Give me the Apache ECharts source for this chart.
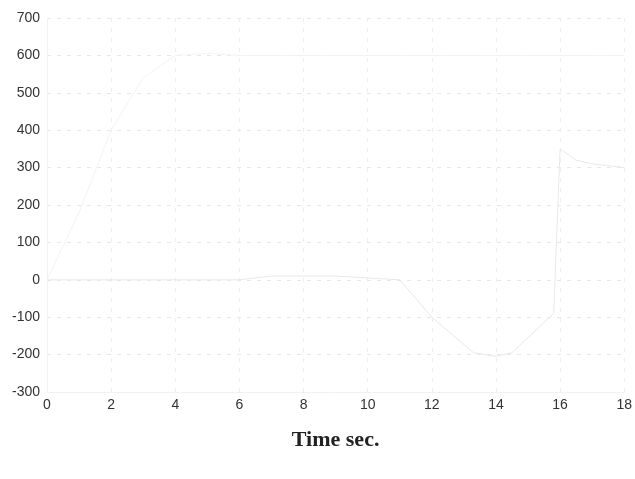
<!DOCTYPE html>
<html>
<head>
<meta charset="utf-8">
<script src="https://cdn.jsdelivr.net/npm/echarts@6/dist/echarts.min.js"></script>
<style>
  html, body { margin: 0; padding: 0; background: #fff; }
  #chart { width: 635px; height: 479px; }
</style>
</head>
<body>
<div id="chart"></div>
<script>
// values read (roughly) off the faded figure
var currentTime = [0, 1, 2, 3, 4, 5, 6, 8, 10, 12, 14, 16, 17, 18]
var currentVals = [0, 180, 400, 540, 600, 605, 600, 600, 600, 600, 600, 600, 600, 600]
var voltageTime = [0, 2, 4, 6, 7, 9, 11, 12, 13.3, 14, 14.5, 15.8, 16, 16.5, 17, 18]
var voltageVals = [0, 0, 0, 0, 10, 10, 0, -100, -195, -205, -195, -90, 350, 320, 310, 300]
var yTicks = [-300, -200, -100, 0, 100, 200, 300, 400, 500, 600, 700]

var pair = (xs, ys) => xs.map((x, i) => [x, ys[i]])

var Chart = echarts.init(document.getElementById('chart'))
var option = {
    animation: false,
    grid: {
        left: 47,
        right: 8,
        top: 18,
        bottom: 87
    },
    xAxis: {
        type: 'value',
        min: 0,
        max: 18,
        interval: 2,
        name: 'Time sec.',
        nameLocation: 'middle',
        nameGap: 37,
        nameTextStyle: {
            fontFamily: 'Liberation Serif',
            fontWeight: 'bold',
            fontSize: 22,
            color: '#222'
        },
        axisLine: { show: true, onZero: false, lineStyle: { color: '#f2f2f2' } },
        axisTick: { show: false },
        axisLabel: {
            margin: 6,
            fontFamily: 'Liberation Sans',
            fontSize: 14,
            color: '#333'
        },
        splitLine: { show: true, lineStyle: { color: '#eeeeee', type: [4, 6] } }
    },
    yAxis: {
        type: 'value',
        min: -300,
        max: 700,
        interval: 100,
        axisLine: { show: true, lineStyle: { color: '#f2f2f2' } },
        axisTick: { show: false },
        axisLabel: {
            margin: 7,
            fontFamily: 'Liberation Sans',
            fontSize: 14,
            color: '#333',
            formatter: (v) => yTicks.indexOf(v) >= 0 ? String(v) : '',
            verticalAlign: 'middle'
        },
        splitLine: { show: true, lineStyle: { color: '#e8e8e8', type: [4, 6] } }
    },
    series: [
        {
            name: 'DC current Amp.',
            type: 'line',
            data: pair(currentTime, currentVals),
            showSymbol: false,
            lineStyle: { color: '#f3f3f3', width: 1 },
            markPoint: {
                symbol: 'none',
                data: [{
                    coord: [4, 630],
                    label: {
                        show: true,
                        formatter: 'DC current Amp.',
                        position: 'right',
                        distance: 0,
                        fontFamily: 'Liberation Sans',
                        fontSize: 13,
                        color: '#222'
                    }
                }]
            }
        },
        {
            name: 'DC voltage volt',
            type: 'line',
            data: pair(voltageTime, voltageVals),
            showSymbol: false,
            lineStyle: { color: '#e8e8e8', width: 1 },
            markPoint: {
                symbol: 'none',
                data: [{
                    coord: [12.2, 418],
                    label: {
                        show: true,
                        formatter: 'DC voltage volt',
                        position: 'right',
                        distance: 0,
                        fontFamily: 'Liberation Sans',
                        fontSize: 13,
                        color: '#222'
                    }
                }]
            }
        }
    ]
}
Chart.setOption(option)
</script>
</body>
</html>
